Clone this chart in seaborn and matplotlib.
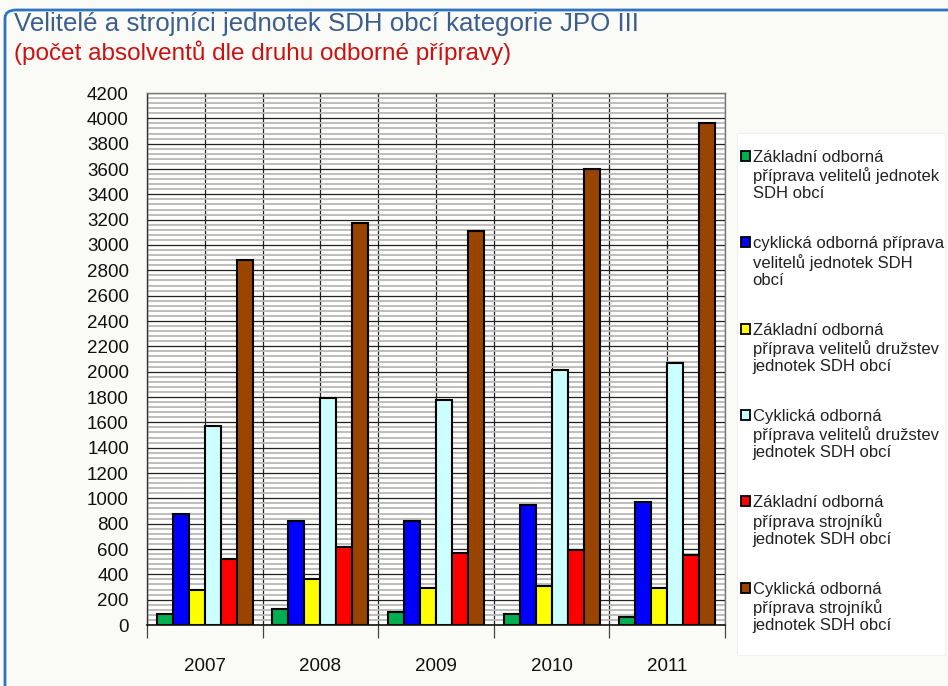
import numpy as np
import pandas as pd
import matplotlib
matplotlib.use("Agg")
import matplotlib.pyplot as plt
import seaborn as sns
from matplotlib.patches import FancyBboxPatch, Patch, Rectangle
from matplotlib.legend_handler import HandlerPatch

years = ["2007", "2008", "2009", "2010", "2011"]
series = [
    "Základní odborná\npříprava velitelů jednotek\nSDH obcí",
    "cyklická odborná příprava\nvelitelů jednotek SDH\nobcí",
    "Základní odborná\npříprava velitelů družstev\njednotek SDH obcí",
    "Cyklická odborná\npříprava velitelů družstev\njednotek SDH obcí",
    "Základní odborná\npříprava strojníků\njednotek SDH obcí",
    "Cyklická odborná\npříprava strojníků\njednotek SDH obcí",
]
zakl_velitelu = [85, 130, 105, 85, 65]
cykl_velitelu = [875, 825, 825, 945, 975]
zakl_druzstev = [280, 365, 295, 310, 295]
cykl_druzstev = [1570, 1790, 1780, 2015, 2065]
zakl_strojniku = [520, 615, 565, 595, 550]
cykl_strojniku = [2880, 3175, 3110, 3600, 3965]
colors = ["#00B050", "#0000FF", "#FFFF00", "#CCFFFF", "#FF0000", "#994400"]

title = "Velitelé a strojníci jednotek SDH obcí kategorie JPO III"
subtitle = "(počet absolventů dle druhu odborné přípravy)"

values = [zakl_velitelu, cykl_velitelu, zakl_druzstev, cykl_druzstev,
          zakl_strojniku, cykl_strojniku]
rows = []
for s, vals in zip(series, values):
    for y, v in zip(years, vals):
        rows.append({"year": y, "series": s, "value": v})
df = pd.DataFrame(rows)

sns.set_theme(style="white")
plt.rcParams["font.family"] = ["Liberation Sans", "DejaVu Sans"]

fig = plt.figure(figsize=(9.48, 6.86), dpi=100, facecolor="#FAFAF7")
W, H = 948, 686

# blue frame
frame = FancyBboxPatch((5 / W, -0.05), 1.2, 1 - 10 / H + 0.05,
                       boxstyle="round,pad=0,rounding_size=0.012",
                       transform=fig.transFigure, facecolor="none",
                       edgecolor="#2E75C0", linewidth=2.0, zorder=0)
fig.patches.append(frame)

# white legend panel
panel = Rectangle((737 / W, 1 - 655 / H), (945 - 737) / W, (655 - 133) / H,
                  transform=fig.transFigure, facecolor="white",
                  edgecolor="#F0F0F0", linewidth=0.8, zorder=0.5)
fig.patches.append(panel)

ax = fig.add_axes([147 / W, 1 - 625 / H, (725 - 147) / W, (625 - 93) / H])
ax.set_facecolor("#FDFDFB")

sns.barplot(data=df, x="year", y="value", hue="series", palette=colors,
            width=0.83, edgecolor="black", linewidth=1.5, ax=ax,
            saturation=1, legend=True)

ax.set_ylim(0, 4200)
ax.set_xlim(-0.5, len(years) - 0.5)
ax.set_yticks(np.arange(0, 4201, 200))
ax.set_yticks(np.arange(0, 4201, 40), minor=True)
ax.set_xticks(np.arange(-0.5, len(years), 0.5), minor=True)
ax.set_axisbelow(True)
ax.grid(True, which="major", axis="both", color="#222222", linewidth=0.9)
ax.grid(True, which="minor", axis="y", color="#B8B8B8", linewidth=1.3)
ax.grid(True, which="minor", axis="x", color="#222222", linewidth=0.9)

ax.tick_params(axis="y", which="both", length=0, labelsize=13.5, pad=13,
               labelcolor="#111111")
ax.tick_params(axis="x", which="major", length=0, labelsize=13.5, pad=24,
               labelcolor="#111111")
ax.tick_params(axis="x", which="minor", length=9, width=0.9, color="#444444",
               direction="out", bottom=True)
ax.set_xlabel("")
ax.set_ylabel("")

for side in ["top", "right", "left"]:
    ax.spines[side].set_color("#777777")
    ax.spines[side].set_linewidth(1.0)
ax.spines["left"].set_color("#333333")
ax.spines["bottom"].set_color("#111111")
ax.spines["bottom"].set_linewidth(1.2)

LEG_FS = 12
LINESP = 1.17


class TopHandler(HandlerPatch):
    def create_artists(self, legend, orig_handle, xdescent, ydescent,
                       width, height, fontsize, trans):
        shift = fontsize * LINESP * 1.02
        r = Rectangle((-xdescent, -ydescent + shift), width, height,
                      facecolor=orig_handle.get_facecolor(),
                      edgecolor="black", linewidth=1.3, transform=trans)
        return [r]


handles = [Patch(facecolor=c, edgecolor="black", linewidth=1.2) for c in colors]
if ax.get_legend() is not None:
    ax.get_legend().remove()
leg = fig.legend(handles, series, loc="upper left",
                 bbox_to_anchor=(741 / W, 1 - 150 / H),
                 bbox_transform=fig.transFigure,
                 fontsize=LEG_FS, frameon=False,
                 handlelength=0.55, handleheight=0.55, handletextpad=0.15,
                 labelspacing=2.1, borderpad=0, borderaxespad=0,
                 handler_map={Patch: TopHandler()})
for t in leg.get_texts():
    t.set_color("#222222")
    t.set_linespacing(LINESP)

fig.text(14 / W, 1 - 12 / H, title, ha="left", va="top", fontsize=18.6,
         color="#3B5E8C")
fig.text(14 / W, 1 - 40 / H, subtitle, ha="left", va="top", fontsize=17.5,
         color="#CC1111")

fig.savefig("out.png", dpi=100, facecolor=fig.get_facecolor())
